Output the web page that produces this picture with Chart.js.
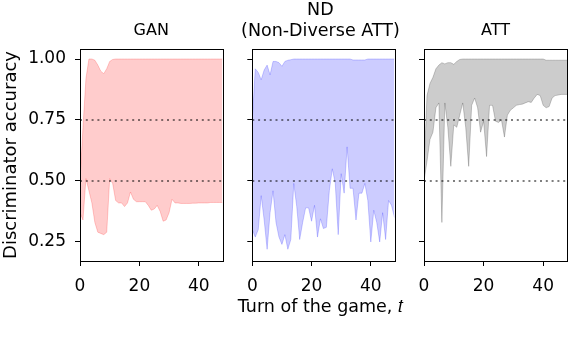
<!DOCTYPE html>
<html>
<head>
<meta charset="utf-8">
<script src="https://cdn.jsdelivr.net/npm/chart.js@4.4.1/dist/chart.umd.min.js"></script>
<style>
html,body{margin:0;padding:0;background:#fff;}
#wrap{position:relative;width:570px;height:352px;background:#fff;}
#wrap canvas{position:absolute;left:0;top:0;}
</style>
</head>
<body>
<div id="wrap">
<canvas id="c1" width="570" height="352"></canvas>
<canvas id="c2" width="570" height="352"></canvas>
<canvas id="c3" width="570" height="352"></canvas>
</div>
<script>
// ---- data ----
const turns = [0,1,2,3,4,5,6,7,8,9,10,11,12,13,14,15,16,17,18,19,20,21,22,23,24,25,26,27,28,29,30,31,32,33,34,35,36,37,38,39,40,41,42,43,44,45,46,47,48];

const ganLower = [0.37,0.34,0.51,0.46,0.41,0.33,0.29,0.285,0.28,0.29,0.51,0.49,0.42,0.41,0.41,0.395,0.41,0.455,0.425,0.415,0.415,0.415,0.415,0.40,0.38,0.385,0.40,0.375,0.335,0.34,0.37,0.425,0.41,0.41,0.408,0.408,0.408,0.408,0.409,0.409,0.41,0.41,0.41,0.41,0.412,0.412,0.412,0.412,0.412];
const ganUpper = [0.50,0.72,0.92,1.0,1.0,0.995,0.975,0.95,0.94,0.96,0.99,0.998,1,1,1,1,1,1,1,1,1,1,1,1,1,1,1,1,1,1,1,1,1,1,1,1,1,1,1,1,1,1,1,1,1,1,1,1,1];

const ndLower = [0.30,0.27,0.30,0.44,0.34,0.22,0.37,0.46,0.33,0.27,0.24,0.28,0.22,0.26,0.49,0.395,0.26,0.33,0.39,0.39,0.335,0.40,0.27,0.345,0.305,0.31,0.46,0.55,0.49,0.28,0.53,0.45,0.64,0.47,0.47,0.34,0.45,0.45,0.49,0.42,0.25,0.38,0.33,0.25,0.37,0.26,0.42,0.40,0.35];
const ndUpper = [0.75,0.96,0.945,0.915,0.955,0.975,0.935,0.99,0.99,0.985,0.97,0.99,0.995,0.997,1,1,1,1,1,1,1,1,1,1,1,1,1,1,1,1,1,1,1,1,0.996,0.996,0.996,0.996,0.996,1,1,1,1,1,1,1,1,1,1];

const attLower = [0.50,0.58,0.67,0.70,0.80,0.82,0.33,0.82,0.72,0.56,0.73,0.72,0.77,0.82,0.72,0.56,0.81,0.84,0.80,0.70,0.745,0.60,0.81,0.81,0.745,0.74,0.75,0.68,0.77,0.79,0.80,0.81,0.813,0.815,0.82,0.825,0.822,0.84,0.855,0.85,0.81,0.80,0.805,0.84,0.85,0.852,0.855,0.855,0.855];
const attUpper = [0.55,0.85,0.90,0.925,0.96,0.975,0.985,0.98,0.985,0.985,0.978,0.99,0.998,1,1,1,1,1,1,1,1,1,1,1,1,1,1,1,1,1,1,1,1,1,1,1,1,1,1,1,1,0.995,0.995,0.995,0.995,0.995,0.995,0.995,0.995];

const refLevels = [0.5, 0.75];
const xTicks = [0, 20, 40];
const yTicks = [0.25, 0.50, 0.75, 1.00];
const titles = [['GAN'], ['ND', '(Non-Diverse ATT)'], ['ATT']];
const yLabel = 'Discriminator accuracy';
const xLabel = 'Turn of the game, \u{1D461}';

// ---- styling / layout ----
Chart.defaults.font.family = "'DejaVu Sans', sans-serif";
Chart.defaults.color = '#000';
const X_MIN = 0, X_MAX = 48, Y_MIN = 0.172, Y_MAX = 1.041;
const CH = 352, CW = 570;
// gutter: empty room left/right of a plot so that centred texts are not squeezed
const panels = [
  {left: 80,    right: 222.5, gutter: 0,   fill: 'rgba(255,0,0,0.2)', edge: 'rgba(255,0,0,0.2)', titleSize: 16,   titleLine: 20.5, titlePad: 8},
  {left: 252.3, right: 394.5, gutter: 79,  fill: 'rgba(0,0,255,0.2)', edge: 'rgba(0,0,255,0.2)', titleSize: 17.5, titleLine: 21,   titlePad: 7},
  {left: 424,   right: 567,   gutter: 0,   fill: 'rgba(0,0,0,0.2)',   edge: 'rgba(0,0,0,0.2)',   titleSize: 16,   titleLine: 20.5, titlePad: 8}
];
const PLOT_TOP = 49, PLOT_BOTTOM = 261;
const TICK_FONT = 17, XLABEL_FONT = 17.5, YLABEL_FONT = 18;
const XLABEL_LINE = 24, XLABEL_PAD = 33;

const frame = {
  id: 'frame',
  afterDatasetsDraw(chart) {
    const a = chart.chartArea, ctx = chart.ctx;
    ctx.save();
    ctx.strokeStyle = '#000';
    ctx.lineWidth = 1;
    ctx.strokeRect(Math.round(a.left) + 0.5, Math.round(a.top) + 0.5,
                   Math.round(a.right) - Math.round(a.left), Math.round(a.bottom) - Math.round(a.top));
    ctx.restore();
  }
};

function pts(ys) { return turns.map((t, i) => ({x: t, y: ys[i]})); }

function makePanel(idx, lower, upper) {
  const p = panels[idx];
  const first = idx === 0, middle = idx === 1;
  const nLines = titles[idx].length;
  const titleHeight = nLines * p.titleLine + p.titlePad;
  const yWidth = (first ? 80 : 6) + p.gutter;
  const xLabelHeight = middle ? XLABEL_LINE + XLABEL_PAD : 0;
  const datasets = [];
  refLevels.forEach(lv => datasets.push({
    data: [{x: X_MIN, y: lv}, {x: X_MAX, y: lv}],
    borderColor: 'rgba(0,0,0,0.5)', borderWidth: 2, borderDash: [2, 3.8],
    pointRadius: 0, fill: false, order: -1
  }));
  datasets.push({
    data: pts(lower), borderColor: p.edge, borderWidth: 1, pointRadius: 0,
    fill: false, tension: 0, order: 1
  });
  datasets.push({
    data: pts(upper), borderColor: p.edge, borderWidth: 1, pointRadius: 0,
    backgroundColor: p.fill, fill: '-1', tension: 0, order: 1
  });
  const scales = {
    x: {
      type: 'linear', min: X_MIN, max: X_MAX,
      afterBuildTicks: s => { s.ticks = xTicks.map(v => ({value: v})); },
      afterFit: s => { s.height = CH - PLOT_BOTTOM - xLabelHeight; },
      ticks: {autoSkip: false, maxRotation: 0, padding: 10, color: '#000', font: {size: TICK_FONT}},
      grid: {drawOnChartArea: false, drawTicks: true, tickLength: 5, tickColor: '#000', tickWidth: 1},
      border: {display: true, color: '#000', width: 1}
    },
    y: {
      type: 'linear', min: Y_MIN, max: Y_MAX,
      afterBuildTicks: s => { s.ticks = yTicks.map(v => ({value: v})); },
      afterFit: s => { s.width = yWidth; },
      ticks: {padding: 9, color: '#000', font: {size: TICK_FONT},
              callback: v => first ? Number(v).toFixed(2) : ''},
      grid: {drawOnChartArea: false, drawTicks: true, tickLength: 5, tickColor: '#000', tickWidth: 1},
      border: {display: true, color: '#000', width: 1},
      title: {display: first, text: yLabel, color: '#000', font: {size: YLABEL_FONT}, padding: {top: 1, bottom: 0}}
    }
  };
  if (p.gutter > 0) {
    scales.yPad = {
      type: 'linear', position: 'right', display: true, min: 0, max: 1,
      grid: {display: false}, ticks: {display: false}, border: {display: false},
      afterFit: s => { s.width = p.gutter; }
    };
  }
  return new Chart(document.getElementById('c' + (idx + 1)), {
    type: 'line',
    data: {datasets},
    options: {
      responsive: false, animation: false, devicePixelRatio: 1,
      layout: {padding: {left: p.left - yWidth, right: CW - p.right - p.gutter, top: Math.max(0, PLOT_TOP - titleHeight), bottom: 0}},
      plugins: {
        legend: {display: false}, tooltip: {enabled: false},
        title: {display: true, fullSize: p.gutter > 0, text: titles[idx], color: '#000',
          font: {family: "'DejaVu Sans', sans-serif", size: p.titleSize, weight: 'normal', lineHeight: p.titleLine / p.titleSize},
          padding: {top: 0, bottom: p.titlePad}},
        subtitle: {display: middle, position: 'bottom', fullSize: true, text: xLabel, color: '#000',
          font: {family: "'DejaVu Sans', sans-serif", size: XLABEL_FONT, weight: 'normal', lineHeight: XLABEL_LINE / XLABEL_FONT},
          padding: {top: 0, bottom: XLABEL_PAD}}
      },
      scales
    },
    plugins: [frame]
  });
}

makePanel(0, ganLower, ganUpper);
makePanel(1, ndLower, ndUpper);
makePanel(2, attLower, attUpper);
</script>
</body>
</html>
